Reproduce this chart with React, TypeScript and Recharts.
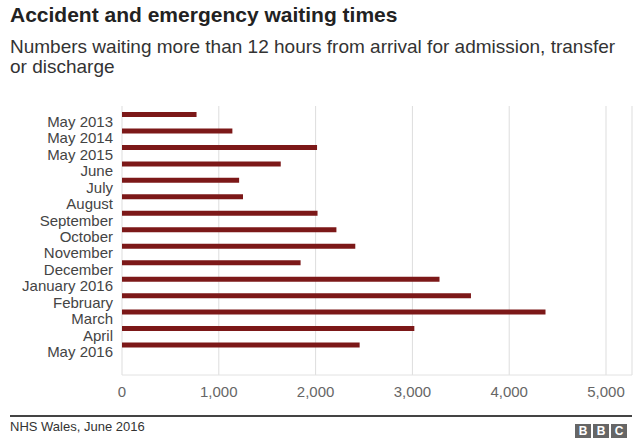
import { Bar, BarChart, CartesianGrid, XAxis, YAxis } from "recharts";

const months = [
  "May 2013",
  "May 2014",
  "May 2015",
  "June",
  "July",
  "August",
  "September",
  "October",
  "November",
  "December",
  "January 2016",
  "February",
  "March",
  "April",
  "May 2016",
];

const waitingOver12h = [
  770, 1140, 2015, 1640, 1210, 1250, 2020, 2215, 2410, 1845, 3280, 3605, 4375,
  3020, 2455,
];

const xTicks = [0, 1000, 2000, 3000, 4000, 5000];

const data = months.map((month, i) => ({ month, value: waitingOver12h[i] }));

const font = "'Liberation Sans', Arial, Helvetica, sans-serif";

const MonthTick = ({ x, y, payload }: any) => (
  <text x={x - 1} y={y + 12.5} textAnchor="end" fill="#444" fontSize={15} fontFamily={font}>
    {payload.value}
  </text>
);

const ValueTick = ({ x, y, payload }: any) => (
  <text x={x} y={y + 14} textAnchor="middle" fill="#666" fontSize={15} fontFamily={font}>
    {payload.value.toLocaleString("en-GB")}
  </text>
);

export default function App() {
  return (
    <div
      style={{
        position: "absolute",
        left: 0,
        top: 0,
        width: 640,
        height: 448,
        background: "#fff",
        fontFamily: font,
      }}
    >
      <div style={{ position: "absolute", left: 10, top: 3, fontSize: 21, fontWeight: "bold", color: "#222", lineHeight: "24px" }}>
        Accident and emergency waiting times
      </div>
      <div style={{ position: "absolute", left: 10, top: 37, width: 625, fontSize: 19, color: "#333", lineHeight: "20px" }}>
        Numbers waiting more than 12 hours from arrival for admission, transfer or discharge
      </div>

      <div style={{ position: "absolute", left: 0, top: 0 }}>
        <BarChart
          width={640}
          height={448}
          data={data}
          layout="vertical"
          margin={{ top: 106, right: 8, bottom: 43, left: 0 }}
        >
          <CartesianGrid horizontal={false} stroke="#ddd" />
          <XAxis
            type="number"
            domain={[0, 5000]}
            ticks={xTicks}
            padding={{ left: 0, right: 26 }}
            height={30}
            axisLine={{ stroke: "#e2e2e2" }}
            tickLine={false}
            tick={<ValueTick />}
          />
          <YAxis
            type="category"
            dataKey="month"
            width={122}
            padding={{ top: 0, bottom: 22 }}
            axisLine={false}
            tickLine={false}
            interval={0}
            tick={<MonthTick />}
          />
          <Bar dataKey="value" fill="#7c1818" barSize={5} isAnimationActive={false} />
        </BarChart>
      </div>

      <div style={{ position: "absolute", left: 10, top: 415, width: 622, height: 1.5, background: "#444" }} />
      <div style={{ position: "absolute", left: 10, top: 419, fontSize: 13, color: "#333", lineHeight: "16px" }}>
        NHS Wales, June 2016
      </div>
      <div style={{ position: "absolute", left: 575, top: 424, display: "flex", gap: 2 }}>
        {["B", "B", "C"].map((l, i) => (
          <div
            key={i}
            style={{
              width: 16,
              height: 14,
              background: "#666",
              color: "#fff",
              fontSize: 12,
              fontWeight: "bold",
              lineHeight: "14px",
              textAlign: "center",
            }}
          >
            {l}
          </div>
        ))}
      </div>
    </div>
  );
}
